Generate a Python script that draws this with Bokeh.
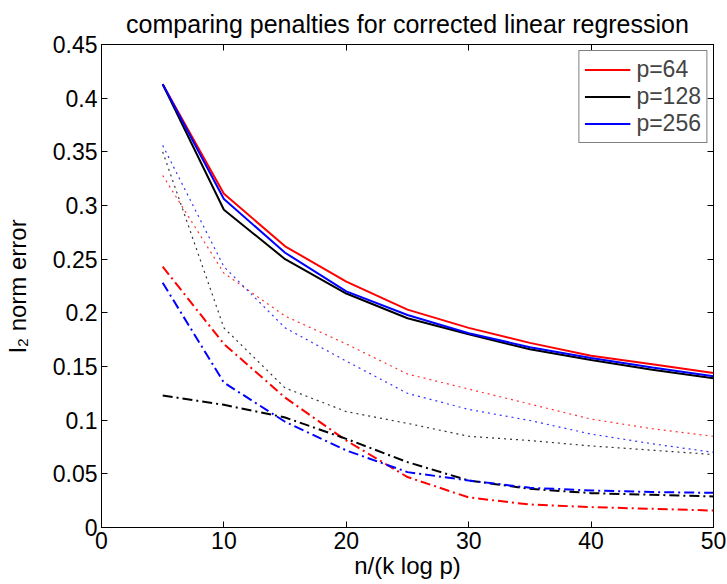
from bokeh.plotting import figure
from bokeh.models import (LinearAxis, FixedTicker, CustomJSTickFormatter, Range1d,
                          Legend, LegendItem)
from bokeh.embed import file_html
from bokeh.resources import INLINE

# ---- data ----
n_ratio = [5, 10, 15, 20, 25, 30, 35, 40, 45, 50]

solid_p64 = [0.413, 0.311, 0.262, 0.229, 0.203, 0.186, 0.172, 0.160, 0.152, 0.144]
solid_p128 = [0.413, 0.296, 0.250, 0.218, 0.195, 0.180, 0.166, 0.156, 0.147, 0.139]
solid_p256 = [0.413, 0.306, 0.256, 0.220, 0.198, 0.181, 0.168, 0.158, 0.149, 0.141]

dotted_p64 = [0.328, 0.237, 0.197, 0.171, 0.143, 0.129, 0.115, 0.101, 0.092, 0.085]
dotted_p128 = [0.350, 0.186, 0.130, 0.108, 0.097, 0.085, 0.081, 0.076, 0.072, 0.068]
dotted_p256 = [0.356, 0.243, 0.186, 0.155, 0.125, 0.110, 0.0997, 0.087, 0.078, 0.070]

dashdot_p64 = [0.243, 0.171, 0.121, 0.081, 0.047, 0.028, 0.0214, 0.019, 0.0174, 0.0158]
dashdot_p128 = [0.123, 0.1143, 0.1025, 0.0826, 0.0609, 0.0438, 0.036, 0.032, 0.0305, 0.0289]
dashdot_p256 = [0.228, 0.135, 0.0985, 0.0718, 0.0516, 0.0438, 0.037, 0.0345, 0.033, 0.0323]

legend_labels = ["p=64", "p=128", "p=256"]
x_ticks = [0, 10, 20, 30, 40, 50]
y_ticks = [0, 0.05, 0.1, 0.15, 0.2, 0.25, 0.3, 0.35, 0.4, 0.45]
x_label = "n/(k log p)"
y_label = "l\u2082 norm error"
title_text = "comparing penalties for corrected linear regression"

FONT = "Liberation Sans"
RED, BLACK, BLUE = "#ff0000", "#000000", "#0000ff"

p = figure(frame_width=612, frame_height=483, output_backend="svg",
           toolbar_location=None, x_range=Range1d(0, 50), y_range=Range1d(0, 0.45),
           min_border_left=99, min_border_right=15, min_border_top=44, min_border_bottom=57,
           title=title_text)
p.background_fill_color = "white"
p.border_fill_color = "white"
p.outline_line_color = "black"
p.xgrid.visible = False
p.ygrid.visible = False

p.title.text_font = FONT
p.title.text_font_size = "25px"
p.title.text_font_style = "normal"
p.title.align = "center"
p.title.text_color = "black"
p.title.standoff = 14

fmt = CustomJSTickFormatter(code="return Number(tick.toFixed(2)).toString();")

for ax in (p.xaxis[0], p.yaxis[0]):
    ax.major_tick_in = 6
    ax.major_tick_out = 0
    ax.minor_tick_line_color = None
    ax.axis_line_color = "black"
    ax.major_tick_line_color = "black"
    ax.major_label_text_font = FONT
    ax.major_label_text_font_size = "23px"
    ax.major_label_text_color = "black"
    ax.axis_label_text_font = FONT
    ax.axis_label_text_font_size = "24px"
    ax.axis_label_text_font_style = "normal"
    ax.axis_label_text_color = "black"

p.xaxis[0].ticker = FixedTicker(ticks=x_ticks)
p.yaxis[0].ticker = FixedTicker(ticks=y_ticks)
p.yaxis[0].formatter = fmt
p.xaxis[0].axis_label = x_label
p.yaxis[0].axis_label = y_label
p.xaxis[0].major_label_standoff = 4
p.xaxis[0].axis_label_standoff = 0
p.yaxis[0].major_label_standoff = 4
p.yaxis[0].axis_label_standoff = 19

for loc, ticks in (("above", x_ticks), ("right", y_ticks)):
    ax = LinearAxis(ticker=FixedTicker(ticks=ticks), major_tick_in=6, major_tick_out=0,
                    minor_tick_line_color=None, major_label_text_font_size="1px",
                    major_label_text_color=None,
                    major_label_standoff=0, axis_line_color="black",
                    major_tick_line_color="black")
    p.add_layout(ax, loc)

# dotted
for ys, c in ((dotted_p64, RED), (dotted_p128, BLACK), (dotted_p256, BLUE)):
    p.line(n_ratio, ys, line_color=c, line_width=1.2, line_dash="2 4", line_alpha=0.8)

# dash-dot
for ys, c in ((dashdot_p64, RED), (dashdot_p128, BLACK), (dashdot_p256, BLUE)):
    p.line(n_ratio, ys, line_color=c, line_width=2, line_dash="10 4 2 4")

# solid
r64 = p.line(n_ratio, solid_p64, line_color=RED, line_width=2)
r128 = p.line(n_ratio, solid_p128, line_color=BLACK, line_width=2)
r256 = p.line(n_ratio, solid_p256, line_color=BLUE, line_width=2)

legend = Legend(items=[LegendItem(label=legend_labels[0], renderers=[r64]),
                       LegendItem(label=legend_labels[1], renderers=[r128]),
                       LegendItem(label=legend_labels[2], renderers=[r256])],
                location="top_right")
legend.margin = 6
legend.padding = 5
legend.spacing = 0
legend.glyph_width = 46
legend.glyph_height = 25
legend.label_height = 25
legend.label_standoff = 6
legend.label_text_font = FONT
legend.label_text_font_size = "23px"
legend.border_line_color = "black"
legend.border_line_width = 1
legend.background_fill_alpha = 1.0
p.add_layout(legend, "center")

open("out.html", "w").write(file_html(p, INLINE))
